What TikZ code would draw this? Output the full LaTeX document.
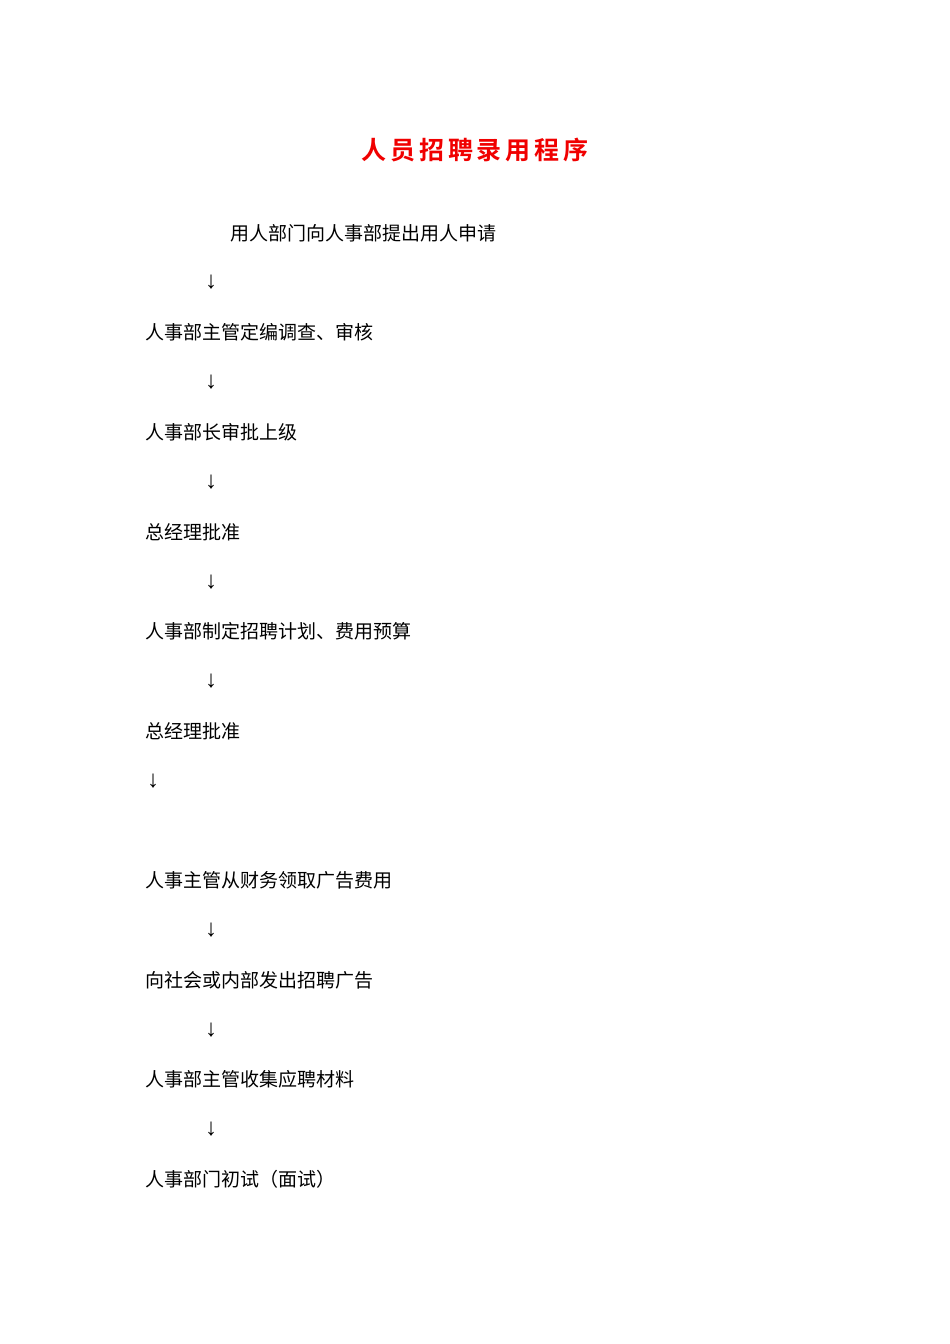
\documentclass[tikz,border=0pt]{standalone}
\usepackage{fontspec}
\newfontfamily\cjk{Noto Sans CJK SC}
\newfontfamily\titlefont[LetterSpace=15]{Noto Sans CJK SC Bold}
\newfontfamily\arrfont{Liberation Serif}
\definecolor{titlered}{RGB}{240,0,0}
\begin{document}
\begin{tikzpicture}[x=1pt,y=1pt,
  line/.style={anchor=west,inner sep=0pt,font=\cjk\fontsize{19}{21}\selectfont},
  arr/.style={inner sep=0pt,font=\arrfont\fontsize{24}{26}\selectfont},
  ttl/.style={inner sep=0pt,text=titlered,font=\titlefont\fontsize{25}{27}\selectfont}]
\useasboundingbox (0,0) rectangle (950,-1344);
\node[ttl] (title) at (475,-150) {人员招聘录用程序};
\node[line] (s1) at (230,-233) {用人部门向人事部提出用人申请};
\node[arr] (a1) at (211,-282) {↓};
\node[line] (s2) at (145,-332) {人事部主管定编调查、审核};
\node[arr] (a2) at (211,-382) {↓};
\node[line] (s3) at (145,-432) {人事部长审批上级};
\node[arr] (a3) at (211,-482) {↓};
\node[line] (s4) at (145,-532) {总经理批准};
\node[arr] (a4) at (211,-582) {↓};
\node[line] (s5) at (145,-631) {人事部制定招聘计划、费用预算};
\node[arr] (a5) at (211,-681) {↓};
\node[line] (s6) at (145,-731) {总经理批准};
\node[arr] (a6) at (153,-781) {↓};
\node[line] (s7) at (145,-880) {人事主管从财务领取广告费用};
\node[arr] (a7) at (211,-930) {↓};
\node[line] (s8) at (145,-980) {向社会或内部发出招聘广告};
\node[arr] (a8) at (211,-1030) {↓};
\node[line] (s9) at (145,-1079) {人事部主管收集应聘材料};
\node[arr] (a9) at (211,-1129) {↓};
\node[line] (s10) at (145,-1179) {人事部门初试（面试）};
\end{tikzpicture}
\end{document}
